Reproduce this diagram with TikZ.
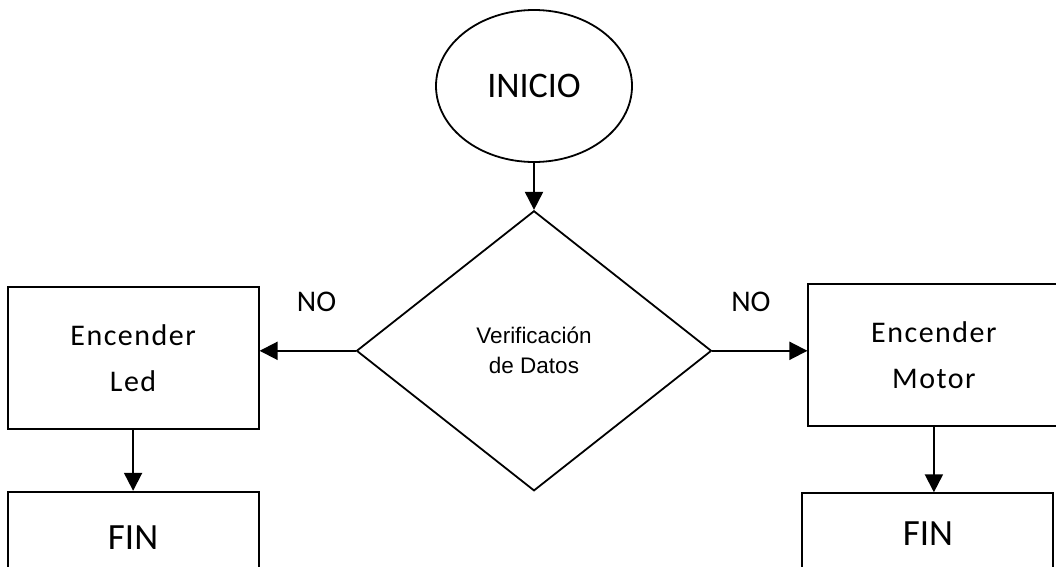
\documentclass[tikz,border=0pt]{standalone}
\usepackage{fontspec}
\setmainfont{Carlito}
\newfontfamily\arialfont{Liberation Sans}
\usetikzlibrary{arrows.meta, positioning, shapes.geometric}

\begin{document}
\begin{tikzpicture}[
  x=1pt, y=1pt,
  startstop/.style = {draw, line width=1.8pt, ellipse, minimum width=196pt, minimum height=152pt, font=\fontsize{36}{40}\selectfont},
  decision/.style = {draw, line width=1.8pt, diamond, minimum width=355pt, minimum height=280pt, inner sep=0pt, align=center, font=\arialfont\fontsize{22.5}{30}\selectfont},
  block/.style = {draw, line width=2pt, minimum width=251pt, minimum height=142pt, align=center, font=\fontsize{30}{46}\selectfont\addfontfeature{LetterSpace=5}},
  finbox/.style = {draw, line width=2pt, minimum width=251pt, font=\fontsize{37}{40}\selectfont},
  arrow/.style = {line width=2pt, -{Triangle[length=18pt,width=18pt]}},
  answer/.style = {font=\fontsize{30}{34}\selectfont}
]
  \clip (0,0) rectangle (1056,-566);

  \node[startstop] (inicio) at (534,-86) {INICIO};
  \node[decision, below=47pt of inicio] (verif) {Verificación\\de Datos};

  % the two branches
  \node[block, left=96pt of verif, yshift=-7pt] (led) {Encender\\Led};
  \node[block, right=95pt of verif, yshift=-4.5pt] (motor) {Encender\\Motor};

  \node[finbox, minimum height=92pt, below=61pt of led] (finled) {FIN};
  \node[finbox, minimum height=80pt, below=65pt of motor, xshift=-6pt] (finmotor) {FIN};

  \draw[arrow] (inicio) -- (verif);
  \draw[arrow] (verif.west) -- node[answer, above=35pt, xshift=9pt] {NO} (verif.west -| led.east);
  \draw[arrow] (verif.east) -- node[answer, above=35pt, xshift=-9pt] {NO} (verif.east -| motor.west);
  \draw[arrow] (led) -- (finled);
  \draw[arrow] (motor.south) -- (motor.south |- finmotor.north);

\end{tikzpicture}
\end{document}
